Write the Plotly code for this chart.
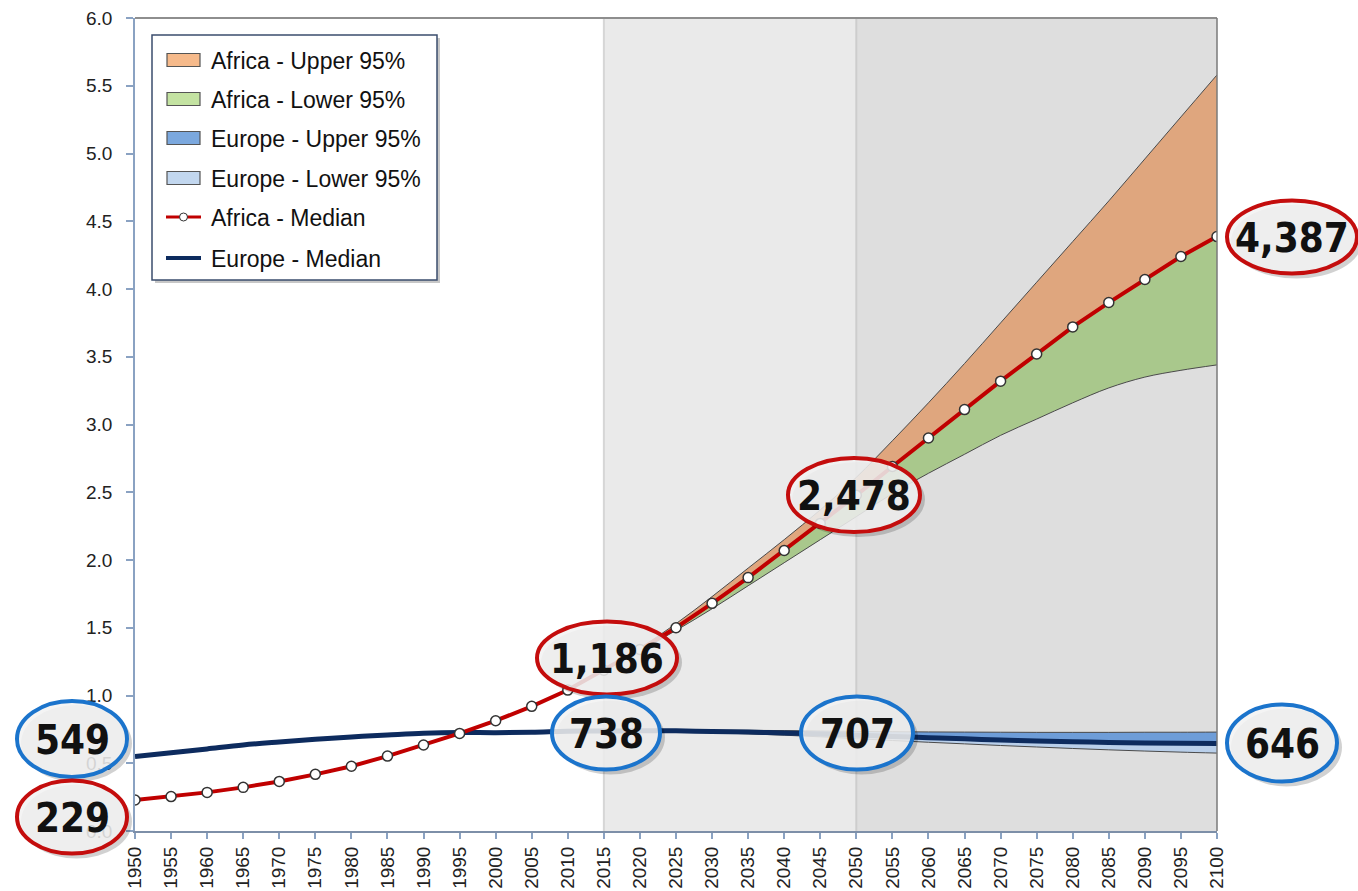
import plotly.graph_objects as go

# ---------------- data (billions) ----------------
years = list(range(1950, 2101, 5))
proj_years = list(range(2015, 2101, 5))

africa_median = [0.229, 0.254, 0.285, 0.322, 0.366, 0.418, 0.478, 0.553, 0.635, 0.720,
                 0.814, 0.920, 1.040, 1.186, 1.340, 1.500, 1.680, 1.870, 2.070, 2.270,
                 2.478, 2.690, 2.900, 3.110, 3.320, 3.520, 3.720, 3.900, 4.070, 4.240, 4.387]
europe_median = [0.549, 0.577, 0.606, 0.635, 0.657, 0.677, 0.694, 0.708, 0.721, 0.727,
                 0.726, 0.729, 0.736, 0.738, 0.740, 0.739, 0.735, 0.730, 0.724, 0.716,
                 0.707, 0.698, 0.689, 0.680, 0.672, 0.665, 0.659, 0.654, 0.650, 0.647, 0.646]

africa_upper = [1.186, 1.350, 1.530, 1.730, 1.940, 2.150, 2.370, 2.610, 2.880, 3.160,
                3.450, 3.750, 4.050, 4.350, 4.650, 4.960, 5.270, 5.580]
africa_lower = [1.186, 1.330, 1.480, 1.640, 1.810, 1.980, 2.150, 2.320, 2.490, 2.640,
                2.780, 2.920, 3.040, 3.160, 3.270, 3.350, 3.400, 3.440]
europe_upper = [0.738, 0.742, 0.744, 0.744, 0.743, 0.741, 0.738, 0.735, 0.733, 0.731,
                0.730, 0.729, 0.728, 0.728, 0.728, 0.729, 0.729, 0.730]
europe_lower = [0.738, 0.737, 0.733, 0.726, 0.717, 0.707, 0.695, 0.681, 0.668, 0.655,
                0.643, 0.631, 0.620, 0.609, 0.599, 0.590, 0.582, 0.575]

y_ticks = [0.0, 0.5, 1.0, 1.5, 2.0, 2.5, 3.0, 3.5, 4.0, 4.5, 5.0, 5.5, 6.0]
x_ticks = years

legend_labels = ["Africa - Upper 95%", "Africa - Lower 95%", "Europe - Upper 95%",
                 "Europe - Lower 95%", "Africa - Median", "Europe - Median"]

# callout labels: text, colour key, centre (px), size (px)
callouts = [
    ("549",   "blue", (72, 739),   (110, 76)),
    ("229",   "red",  (72, 817),   (110, 73)),
    ("1,186", "red",  (607, 658),  (140, 73)),
    ("738",   "blue", (606, 733),  (108, 73)),
    ("707",   "blue", (857, 733),  (112, 73)),
    ("2,478", "red",  (854, 495),  (132, 74)),
    ("4,387", "red",  (1292, 237), (130, 73)),
    ("646",   "blue", (1282, 743), (110, 77)),
]

# ---------------- layout geometry ----------------
W, H = 1358, 891
L, R, T, B = 135, 1217, 18, 831
PW, PH = R - L, B - T

def px(x):
    return (x - L) / PW

def py(y):
    return (B - y) / PH

AF_RED = "#c00000"
EU_NAVY = "#0d2b5e"
C_ORANGE = "#dfa67e"
C_GREEN = "#a9c88c"
C_EU_UP = "#6e9dd8"
C_EU_LO = "#b9cfea"
EDGE = "#4a4a4a"
LEG_COLORS = ["#f6ba8b", "#c4e3a2", "#7ba8de", "#c2d7ef"]

fig = go.Figure()

af_med_proj = africa_median[years.index(2015):]
eu_med_proj = europe_median[years.index(2015):]

def band(base, edge, color, name):
    fig.add_trace(go.Scatter(x=proj_years, y=base, mode="lines", line=dict(width=0, shape="spline"),
                             showlegend=False, hoverinfo="skip"))
    fig.add_trace(go.Scatter(x=proj_years, y=edge, mode="lines", fill="tonexty",
                             fillcolor=color, line=dict(color=EDGE, width=1, shape="spline"),
                             name=name, showlegend=False))

band(af_med_proj, africa_upper, C_ORANGE, legend_labels[0])
band(af_med_proj, africa_lower, C_GREEN, legend_labels[1])
band(eu_med_proj, europe_upper, C_EU_UP, legend_labels[2])
band(eu_med_proj, europe_lower, C_EU_LO, legend_labels[3])

fig.add_trace(go.Scatter(x=years, y=europe_median, mode="lines",
                         line=dict(color=EU_NAVY, width=5, shape="spline"),
                         name=legend_labels[5], showlegend=False))
fig.add_trace(go.Scatter(x=years, y=africa_median, mode="lines+markers",
                         line=dict(color=AF_RED, width=4),
                         marker=dict(size=10, color="white", line=dict(color="#333333", width=1.5)),
                         name=legend_labels[4], showlegend=False))

shapes = []
annotations = []

def prect(x0, y0, x1, y1, **kw):
    d = dict(type="rect", xref="paper", yref="paper",
             x0=px(x0), x1=px(x1), y0=py(y1), y1=py(y0))
    d.update(kw)
    return d

# projection shading
shapes.append(dict(type="rect", xref="x", yref="paper", x0=2015, x1=2050, y0=0, y1=1,
                   fillcolor="#eaeaea", line=dict(width=0), layer="below"))
shapes.append(dict(type="rect", xref="x", yref="paper", x0=2050, x1=2100, y0=0, y1=1,
                   fillcolor="#dedede", line=dict(width=0), layer="below"))
shapes.append(dict(type="line", xref="x", yref="paper", x0=2015, x1=2015, y0=0, y1=1,
                   line=dict(color="#d6d6d6", width=2), layer="below"))
shapes.append(dict(type="line", xref="x", yref="paper", x0=2050, x1=2050, y0=0, y1=1,
                   line=dict(color="#cdcdcd", width=2), layer="below"))
# frame top/right
shapes.append(dict(type="line", xref="paper", yref="paper", x0=0, x1=1, y0=1, y1=1,
                   line=dict(color="#8e8e8e", width=2)))
shapes.append(dict(type="line", xref="paper", yref="paper", x0=1, x1=1, y0=0, y1=1,
                   line=dict(color="#7a7a7a", width=1.5)))

# ---------------- custom legend ----------------
LX0, LY0, LX1, LY1 = 152, 35, 437, 280
item_y = [60, 99, 138, 178, 217, 258]
shapes.append(prect(LX0 + 3, LY0 + 3, LX1 + 3, LY1 + 3, fillcolor="rgba(0,0,0,0.22)",
                    line=dict(width=0), layer="above"))
shapes.append(prect(LX0, LY0, LX1, LY1, fillcolor="white",
                    line=dict(color="#3b4d6e", width=1.5), layer="above"))
for i, (lab, yy) in enumerate(zip(legend_labels, item_y)):
    if i < 4:
        shapes.append(prect(167, yy - 6.5, 200, yy + 6.5, fillcolor=LEG_COLORS[i],
                            line=dict(color="#555555", width=1.2), layer="above"))
    elif i == 4:
        shapes.append(dict(type="line", xref="paper", yref="paper", x0=px(166), x1=px(201),
                           y0=py(yy), y1=py(yy), line=dict(color=AF_RED, width=3), layer="above"))
        shapes.append(dict(type="circle", xref="paper", yref="paper", x0=px(179.5), x1=px(187.5),
                           y0=py(yy + 4), y1=py(yy - 4), fillcolor="white",
                           line=dict(color="#333333", width=1), layer="above"))
    else:
        shapes.append(dict(type="line", xref="paper", yref="paper", x0=px(166), x1=px(201),
                           y0=py(yy), y1=py(yy), line=dict(color=EU_NAVY, width=4), layer="above"))
    annotations.append(dict(xref="paper", yref="paper", x=px(209), y=py(yy + 1), text=lab,
                            showarrow=False, xanchor="left", yanchor="middle",
                            font=dict(size=23, color="#111111",
                                      family="Liberation Sans, Arial, sans-serif")))

# ---------------- callout ellipses ----------------
ring = {"red": "#c40d0d", "blue": "#1b74cc"}
for text, ck, (cx, cy), (w, h) in callouts:
    shapes.append(dict(type="circle", xref="paper", yref="paper",
                       x0=px(cx - w / 2 + 4), x1=px(cx + w / 2 + 5),
                       y0=py(cy + h / 2 + 5), y1=py(cy - h / 2 + 4),
                       fillcolor="rgba(0,0,0,0.18)", line=dict(width=0), layer="above"))
    shapes.append(dict(type="circle", xref="paper", yref="paper",
                       x0=px(cx - w / 2), x1=px(cx + w / 2),
                       y0=py(cy + h / 2), y1=py(cy - h / 2),
                       fillcolor="rgba(242,242,242,0.86)",
                       line=dict(color=ring[ck], width=4), layer="above"))
    annotations.append(dict(xref="paper", yref="paper", x=px(cx), y=py(cy + 1),
                            text=f"<b>{text}</b>", showarrow=False,
                            xanchor="center", yanchor="middle",
                            font=dict(size=40, color="#111111",
                                      family="Liberation Sans Narrow, Arial Narrow, DejaVu Sans Condensed, sans-serif")))

fig.update_layout(
    width=W, height=H,
    margin=dict(l=L, r=W - R, t=T, b=H - B, pad=0, autoexpand=False),
    paper_bgcolor="white", plot_bgcolor="white",
    font=dict(family="Liberation Sans, Arial, sans-serif", color="#222222"),
    showlegend=False,
    shapes=shapes, annotations=annotations,
    xaxis=dict(range=[1950, 2100], tickvals=x_ticks, ticktext=[str(v) for v in x_ticks],
               tickangle=-90, tickfont=dict(size=19, color="#222222"), automargin=False,
               showgrid=False, zeroline=False, showline=True, linecolor="#7d8fa8", linewidth=2,
               ticks="outside", ticklen=6, tickcolor="#8aa2c2", tickwidth=1.5),
    yaxis=dict(range=[0, 6], tickvals=y_ticks, ticktext=[f"{v:.1f}" for v in y_ticks],
               tickfont=dict(size=19, color="#222222"), automargin=False, ticklabelstandoff=10,
               showgrid=False, zeroline=False, showline=True, linecolor="#8aa2c2", linewidth=1.5,
               ticks="outside", ticklen=7, tickcolor="#8aa2c2", tickwidth=1.5),
)

fig.write_html("out.html", config={"displayModeBar": False},
               post_script="document.body.style.margin='0px';document.body.style.overflow='hidden';")
